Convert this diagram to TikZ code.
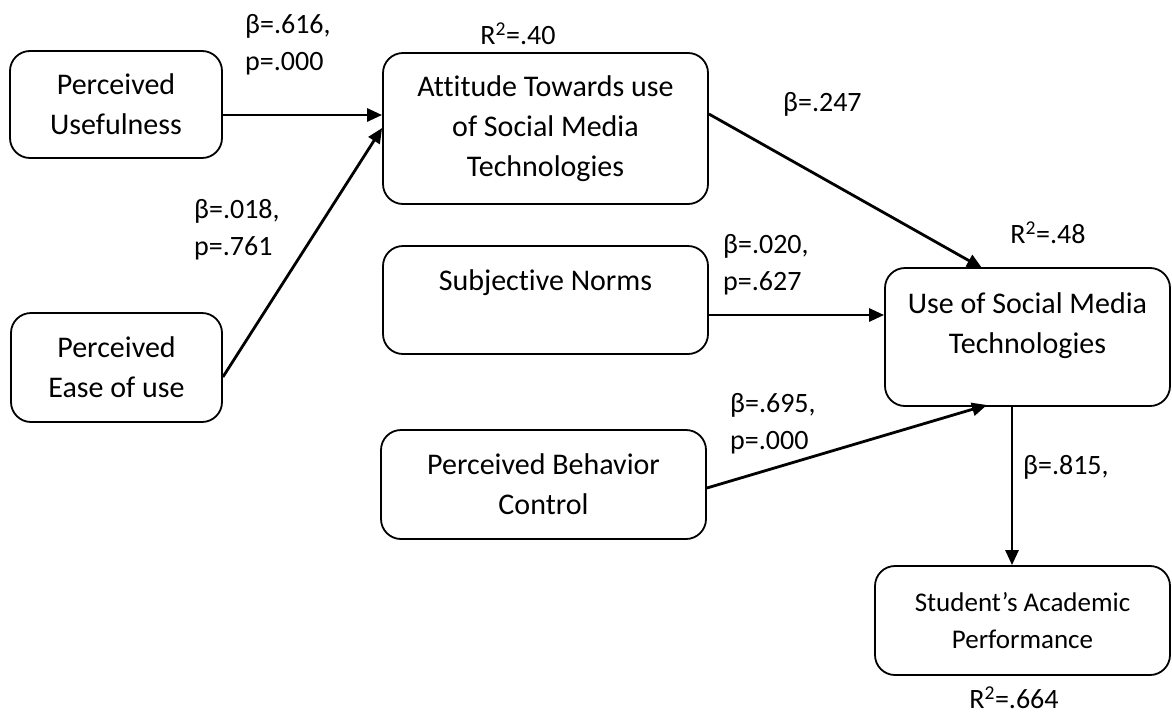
\documentclass[tikz,border=0pt]{standalone}
\usepackage{fontspec}
\setmainfont{Carlito}[Ligatures=NoCommon]
\usetikzlibrary{arrows.meta,calc}
\begin{document}
\begin{tikzpicture}[x=1pt,y=-1pt,
  box/.style={draw,line width=1.8pt,rounded corners=20pt,align=center,inner sep=0pt,
     font=\fontsize{30}{40}\selectfont},
  lbl/.style={align=left,inner sep=0pt,font=\fontsize{28}{37}\selectfont},
  arr/.style={line width=2.8pt,-{Triangle[length=15pt,width=13pt]}}]
\useasboundingbox (0,0) rectangle (1172,715);
% boxes
\node[box,minimum width=212pt,minimum height=107pt] (PU) at (116,104.5) {Perceived\\Usefulness};
\node[box,minimum width=211pt,minimum height=109pt] (PEU) at (116.5,367.5) {Perceived\\Ease of use};
\node[box,minimum width=325pt,minimum height=151pt] (ATT) at (545.5,128.5) {Attitude Towards use\\of Social Media\\Technologies};
\node[box,minimum width=325pt,minimum height=108pt,text height=20pt,text depth=40pt] (SN) at (545.5,300) {Subjective Norms};
\node[box,minimum width=325pt,minimum height=109pt] (PBC) at (543.5,484.5) {Perceived Behavior\\Control};
\node[box,minimum width=285pt,minimum height=138pt,text height=62pt,text depth=30pt] (USE) at (1027.5,337)
  {\begin{tabular}[b]{@{}c@{}}Use of Social Media\\Technologies\end{tabular}};
\node[box,minimum width=295pt,minimum height=109pt,font=\fontsize{27}{37}\selectfont] (SAP) at (1022.5,620.5) {Student’s Academic\\Performance};
% connectors
\draw[arr] (PU.east |- 0,115) -- (ATT.west |- 0,115);
\draw[arr] (PEU.east |- 0,377) -- (ATT.west |- 0,128);
\draw[arr] (ATT.east |- 0,114) -- (982,268);
\draw[arr] (SN.east |- 0,315) -- (USE.west |- 0,315);
\draw[arr] (PBC.east |- 0,488) -- (987,405);
\draw[arr] (1012,406) -- (SAP.north -| 1012,0);
% labels
\node[lbl,anchor=west] (L1) at (245,45) {β=.616,\\p=.000};
\node[lbl] (R1) at (518,34) {R\textsuperscript{2}=.40};
\node[lbl,anchor=west] (L2) at (194,230) {β=.018,\\p=.761};
\node[lbl,anchor=west] (L3) at (783,104) {β=.247};
\node[lbl,anchor=west] (L4) at (723,265) {β=.020,\\p=.627};
\node[lbl] (R2) at (1048,233) {R\textsuperscript{2}=.48};
\node[lbl,anchor=west] (L5) at (730,424) {β=.695,\\p=.000};
\node[lbl,anchor=west] (L6) at (1023,467) {β=.815,};
\node[lbl] (R3) at (1014,698) {R\textsuperscript{2}=.664};
\end{tikzpicture}
\end{document}
